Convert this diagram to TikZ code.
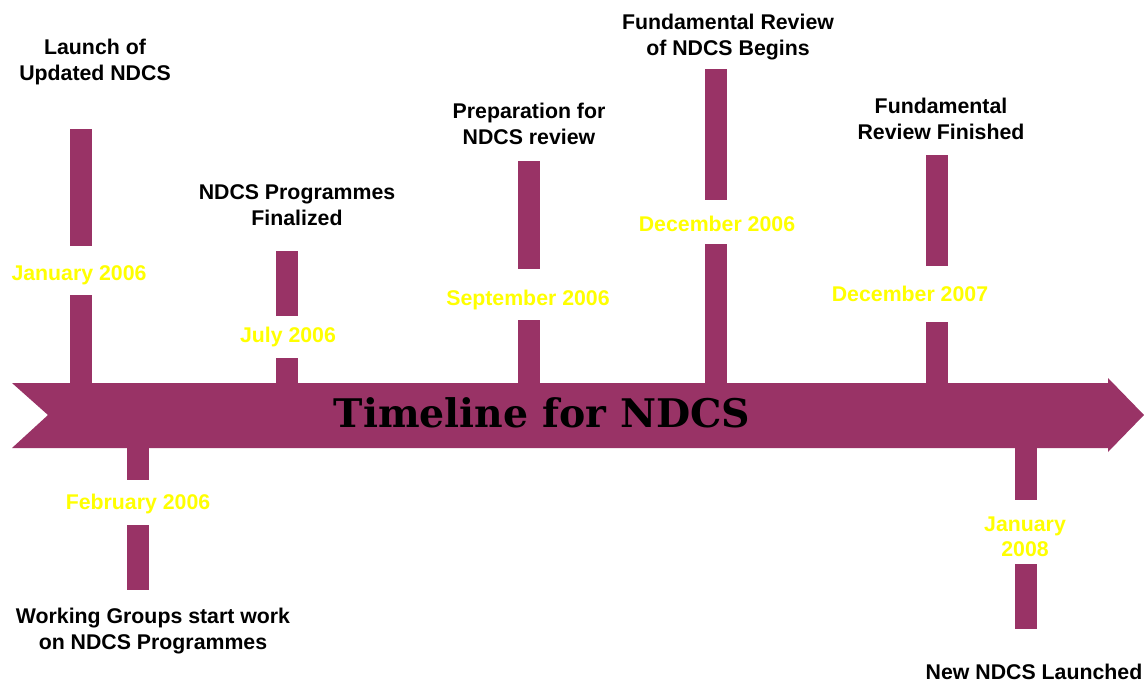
\documentclass[tikz,border=0pt]{standalone}
\usepackage{fontspec}
\setsansfont{Liberation Sans}
\newfontfamily\titlefont{DejaVu Serif}
\definecolor{plum}{RGB}{153,51,102}
\definecolor{dateyellow}{RGB}{255,255,0}

\begin{document}
\begin{tikzpicture}[
    x=1pt, y=-1pt,
    every node/.style={inner sep=0pt, align=center},
    event/.style={font=\sffamily\bfseries\fontsize{21.3}{25.5}\selectfont, text=black},
    datelabel/.style={font=\sffamily\bfseries\fontsize{21.3}{25}\selectfont, text=dateyellow},
    title/.style={font=\titlefont\bfseries\fontsize{39.4}{46}\selectfont, text=black}
]
\useasboundingbox (0,0) rectangle (1144,682);

% the big arrow
\fill[plum] (12,383) -- (1108,383) -- (1108,378) -- (1144,415) -- (1108,452)
    -- (1108,448) -- (12,448) -- (48,415) -- cycle;
\node[title] (title) at (542,413) {Timeline for NDCS};

% bars: x, top of upper part, bottom of upper part, top of lower part, bottom of lower part
\foreach \x/\ya/\yb/\yc/\yd in {81/129/246/295/383, 287/251/316/358/383,
    529/161/269/320/383, 716/69/200/244/383, 937/155/266/322/383,
    138/448/480/525/590, 1026/448/500/564/629}
{
    \fill[plum] (\x-11,\ya) rectangle (\x+11,\yb);
    \fill[plum] (\x-11,\yc) rectangle (\x+11,\yd);
}

% dates
\node[datelabel] (jan06) at (79,275) {January 2006};
\node[datelabel] (jul06) at (288,337) {July 2006};
\node[datelabel] (sep06) at (528,300) {September 2006};
\node[datelabel] (dec06) at (717,224) {December 2006};
\node[datelabel] (dec07) at (910,294) {December 2007};
\node[datelabel] (feb06) at (138,504) {February 2006};
\node[datelabel] (jan08) at (1025,537) {January\\ 2008};

% events
\node[event] (launch) at (95,62) {Launch of\\ Updated NDCS};
\node[event] (finalized) at (297,205) {NDCS Programmes\\ Finalized};
\node[event] (prep) at (529,124) {Preparation for\\ NDCS review};
\node[event] (begins) at (728,37) {Fundamental Review\\ of NDCS Begins};
\node[event] (finished) at (941,119) {Fundamental\\ Review Finished};
\node[event] (groups) at (153,631) {Working Groups start work\\ on NDCS Programmes};
\node[event] (newndcs) at (1034,672) {New NDCS Launched};
\end{tikzpicture}
\end{document}
